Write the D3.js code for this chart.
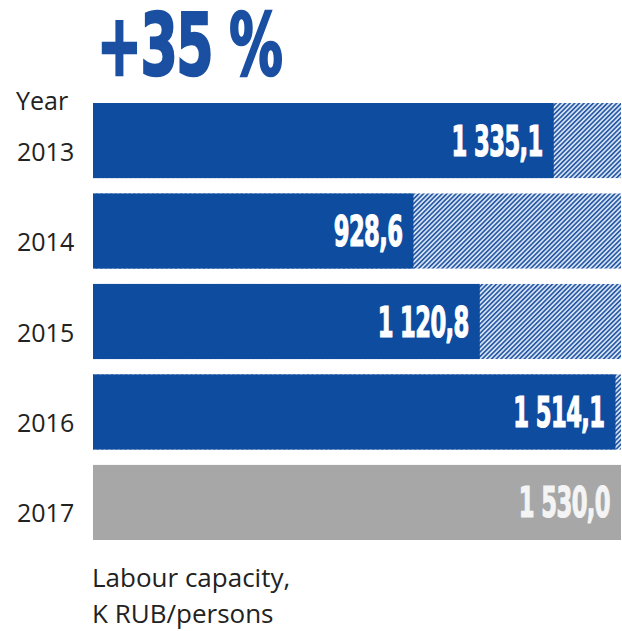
<!DOCTYPE html>
<html>
<head>
<meta charset="utf-8">
<script src="https://cdn.jsdelivr.net/npm/d3@7"></script>
<style>
  html, body { margin: 0; padding: 0; background: #ffffff; }
  svg { display: block; }
</style>
</head>
<body>
<div id="chart"></div>
<script>
// Labour capacity by year, K RUB per person
const years = ["2013", "2014", "2015", "2016", "2017"];
const values = [1335.1, 928.6, 1120.8, 1514.1, 1530.0];
const valueLabels = ["1 335,1", "928,6", "1 120,8", "1 514,1", "1 530,0"];
const isPlan = [false, false, false, false, true];
const target = 1530.0;
const headline = "+35 %";
const yearTitle = "Year";
const unitLines = ["Labour capacity,", "K RUB/persons"];

const W = 622, H = 631;
const blue = "#0d4c9f";
const grey = "#a7a7a7";
const condensed = "'Liberation Sans Narrow', 'DejaVu Sans Condensed', 'Liberation Sans', sans-serif";
const body = "'Open Sans', 'Noto Sans', sans-serif";

const svg = d3.select("#chart").append("svg")
  .attr("width", W).attr("height", H);

// diagonal hatch for the remaining distance to the target
const defs = svg.append("defs");
const pat = defs.append("pattern")
  .attr("id", "hatch")
  .attr("patternUnits", "userSpaceOnUse")
  .attr("width", 3.3).attr("height", 3.3)
  .attr("patternTransform", "rotate(45)");
pat.append("rect").attr("width", 3.3).attr("height", 3.3).attr("fill", "#d9e6f6");
pat.append("rect").attr("width", 1.7).attr("height", 3.3).attr("fill", "#2d5ca6");

const x = d3.scaleLinear().domain([0, target]).range([93, 621]);
const y = d3.scaleBand().domain(years).range([103, 540]).paddingInner(0.17).paddingOuter(0);

const rows = svg.append("g").selectAll("g.row")
  .data(years.map((yr, i) => ({ yr, v: values[i], label: valueLabels[i], plan: isPlan[i] })))
  .join("g").attr("class", "row");

// hatched remainder up to target
rows.filter(d => !d.plan).append("rect")
  .attr("x", x(0)).attr("y", d => y(d.yr))
  .attr("width", x(target) - x(0)).attr("height", y.bandwidth())
  .attr("fill", "url(#hatch)");

// achieved value
rows.append("rect")
  .attr("x", x(0)).attr("y", d => y(d.yr))
  .attr("width", d => x(d.v) - x(0)).attr("height", y.bandwidth())
  .attr("fill", d => d.plan ? grey : blue);

// value labels inside the bar end, condensed heavy digits
rows.append("text")
  .attr("transform", d => `translate(${x(d.v) - 11},${y(d.yr) + y.bandwidth() / 2 + 15}) scale(0.6,1)`)
  .attr("text-anchor", "end")
  .attr("font-family", condensed)
  .attr("font-weight", "bold")
  .attr("font-size", 42)
  .attr("letter-spacing", -1)
  .attr("fill", d => d.plan ? "#f4f4f4" : "#ffffff")
  .attr("stroke", d => d.plan ? "#f4f4f4" : "#ffffff")
  .attr("stroke-width", 1.2)
  .text(d => d.label);

// year labels
rows.append("text")
  .attr("x", 17)
  .attr("y", d => y(d.yr) + y.bandwidth() / 2 + 20)
  .attr("font-family", body)
  .attr("font-size", 25)
  .attr("fill", "#222222")
  .text(d => d.yr);

svg.append("text")
  .attr("x", 16).attr("y", 110)
  .attr("font-family", body)
  .attr("font-size", 25)
  .attr("fill", "#222222")
  .text(yearTitle);

// headline growth figure
svg.append("text")
  .attr("transform", "translate(97,75) scale(0.7,1)")
  .attr("font-family", condensed)
  .attr("font-weight", "bold")
  .attr("font-size", 85)
  .attr("letter-spacing", -2)
  .attr("fill", "#1a4fa1")
  .attr("stroke", "#1a4fa1")
  .attr("stroke-width", 2.5)
  .text(headline);

// unit caption
svg.append("g").selectAll("text")
  .data(unitLines)
  .join("text")
  .attr("x", 92)
  .attr("y", (d, i) => 587 + i * 36)
  .attr("font-family", body)
  .attr("font-size", 26)
  .attr("fill", "#222222")
  .text(d => d);
</script>
</body>
</html>
